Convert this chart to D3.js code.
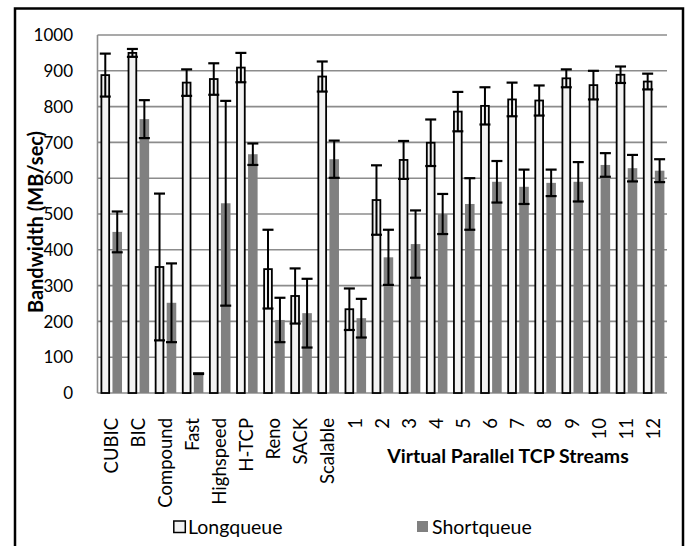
<!DOCTYPE html>
<html>
<head>
<meta charset="utf-8">
<script src="https://cdnjs.cloudflare.com/ajax/libs/d3/7.8.5/d3.min.js"></script>
<style>
  body { margin: 0; background: #fff; }
  text { font-family: Lato, "Open Sans", sans-serif; fill: #000; }
</style>
</head>
<body>
<div id="bars"></div>
<script>
// chart data
var categories = ["CUBIC", "BIC", "Compound", "Fast", "Highspeed", "H-TCP", "Reno", "SACK", "Scalable",
                  "1", "2", "3", "4", "5", "6", "7", "8", "9", "10", "11", "12"]
var longqueue = [888, 950, 352, 867, 877, 909, 346, 271, 884,
                 234, 539, 651, 699, 786, 802, 820, 817, 879, 860, 889, 870]
var longErr = [60, 11, 205, 37, 44, 41, 110, 77, 42,
               58, 97, 53, 65, 55, 52, 47, 42, 25, 40, 23, 22]
var shortqueue = [450, 765, 252, 54, 530, 667, 204, 223, 653,
                  209, 379, 416, 500, 528, 590, 576, 587, 590, 637, 628, 621]
var shortErr = [57, 53, 110, 1, 286, 30, 62, 96, 52,
                54, 77, 94, 56, 72, 58, 48, 37, 55, 33, 37, 32]
var yTicks = [0, 100, 200, 300, 400, 500, 600, 700, 800, 900, 1000]
var subgroups = ["Longqueue", "Shortqueue"]

var W = 689, H = 546
var plot = {left: 97.5, right: 667, top: 35, bottom: 393}

var data = categories.map(function(c, i) {
    return {cat: c, Longqueue: longqueue[i], LongqueueErr: longErr[i],
            Shortqueue: shortqueue[i], ShortqueueErr: shortErr[i]}
})

var svg = d3.select("#bars")
    .append("svg")
    .attr("width", W)
    .attr("height", H)

// outer chart border
svg.append("rect")
    .attr("x", 15).attr("y", 8.5)
    .attr("width", 668).attr("height", 560)
    .attr("fill", "none")
    .attr("stroke", "#000")
    .attr("stroke-width", 2.5)

var x = d3.scaleBand()
    .domain(categories)
    .range([plot.left, plot.right])

var xSubgroup = d3.scaleBand()
    .domain(subgroups)
    .range([3, x.bandwidth() - 2.6])
    .paddingInner(0.2)

var y = d3.scaleLinear()
    .domain([0, 1000])
    .range([plot.bottom, plot.top])

var color = d3.scaleOrdinal()
    .domain(subgroups)
    .range(["#f2f2f2", "#808080"])

// gridlines
svg.append("g")
    .selectAll("line")
    .data(yTicks)
    .enter().append("line")
    .attr("x1", plot.left).attr("x2", plot.right)
    .attr("y1", function(d) { return y(d) }).attr("y2", function(d) { return y(d) })
    .attr("stroke", "#8c8c8c")
    .attr("stroke-width", 1.6)

// y axis line
svg.append("line")
    .attr("x1", plot.left).attr("x2", plot.left)
    .attr("y1", plot.top).attr("y2", plot.bottom)
    .attr("stroke", "#8c8c8c")
    .attr("stroke-width", 1.6)

// y tick labels
svg.append("g")
    .selectAll("text")
    .data(yTicks)
    .enter().append("text")
    .attr("x", 73)
    .attr("y", function(d) { return y(d) })
    .attr("dy", "0.36em")
    .style("text-anchor", "end")
    .style("font-size", "17px")
    .text(function(d) { return d })

// y axis title
svg.append("text")
    .attr("transform", "translate(36,222) rotate(-90)")
    .attr("dy", "0.35em")
    .style("text-anchor", "middle")
    .style("font-size", "20px")
    .style("font-weight", "bold")
    .text("Bandwidth (MB/sec)")

// bars
var groups = svg.append("g")
    .selectAll("g")
    .data(data)
    .enter()
    .append("g")
    .attr("transform", function(d) { return "translate(" + x(d.cat) + ",0)" })

var items = groups.selectAll("g")
    .data(function(d) { return subgroups.map(function(key) { return {key: key, value: d[key], err: d[key + "Err"]} }) })
    .enter().append("g")

items.append("rect")
    .attr("x", function(d) { return xSubgroup(d.key) + (d.key == "Longqueue" ? 0.9 : 0) })
    .attr("y", function(d) { return y(d.value) })
    .attr("width", function(d) { return xSubgroup.bandwidth() - (d.key == "Longqueue" ? 1.8 : 0) })
    .attr("height", function(d) { return plot.bottom - y(d.value) })
    .attr("fill", function(d) { return color(d.key) })
    .attr("stroke", function(d) { return d.key == "Longqueue" ? "#000" : "none" })
    .attr("stroke-width", 1.8)

// error bars
var cx = function(d) { return xSubgroup(d.key) + xSubgroup.bandwidth() / 2 }
items.append("line")
    .attr("x1", cx).attr("x2", cx)
    .attr("y1", function(d) { return y(d.value + d.err) })
    .attr("y2", function(d) { return y(Math.max(0, d.value - d.err)) })
    .attr("stroke", "#000").attr("stroke-width", 2)
items.selectAll("line.cap")
    .data(function(d) { return [d.value + d.err, Math.max(0, d.value - d.err)].map(function(v) { return {key: d.key, v: v} }) })
    .enter().append("line")
    .attr("class", "cap")
    .attr("x1", function(d) { return cx(d) - 5.5 }).attr("x2", function(d) { return cx(d) + 5.5 })
    .attr("y1", function(d) { return y(d.v) }).attr("y2", function(d) { return y(d.v) })
    .attr("stroke", "#000").attr("stroke-width", 2.2)

// x tick labels
svg.append("g")
    .selectAll("text")
    .data(categories)
    .enter().append("text")
    .attr("transform", function(d) { return "translate(" + (x(d) + x.bandwidth() / 2) + ",418) rotate(-90)" })
    .attr("dy", "0.35em")
    .style("text-anchor", "end")
    .style("font-size", "18.5px")
    .text(function(d) { return d })

svg.append("text")
    .attr("x", 508)
    .attr("y", 463)
    .style("text-anchor", "middle")
    .style("font-size", "19.5px")
    .style("font-weight", "bold")
    .text("Virtual Parallel TCP Streams")

// legend
var legend = svg.append("g")
    .selectAll("g")
    .data(subgroups)
    .enter().append("g")
    .attr("transform", function(d, i) { return "translate(" + (i == 0 ? 173 : 417) + ",527)" })
legend.append("rect")
    .attr("x", function(d, i) { return i == 0 ? 0.8 : 0 })
    .attr("y", -6)
    .attr("width", function(d, i) { return i == 0 ? 11.5 : 11 })
    .attr("height", function(d, i) { return i == 0 ? 11.5 : 11 })
    .attr("fill", function(d) { return color(d) })
    .attr("stroke", function(d, i) { return i == 0 ? "#000" : "none" })
    .attr("stroke-width", 1.5)
legend.append("text")
    .attr("x", 15)
    .attr("y", 0)
    .attr("dy", "0.36em")
    .style("font-size", "19.5px")
    .text(function(d) { return d })
</script>
</body>
</html>
